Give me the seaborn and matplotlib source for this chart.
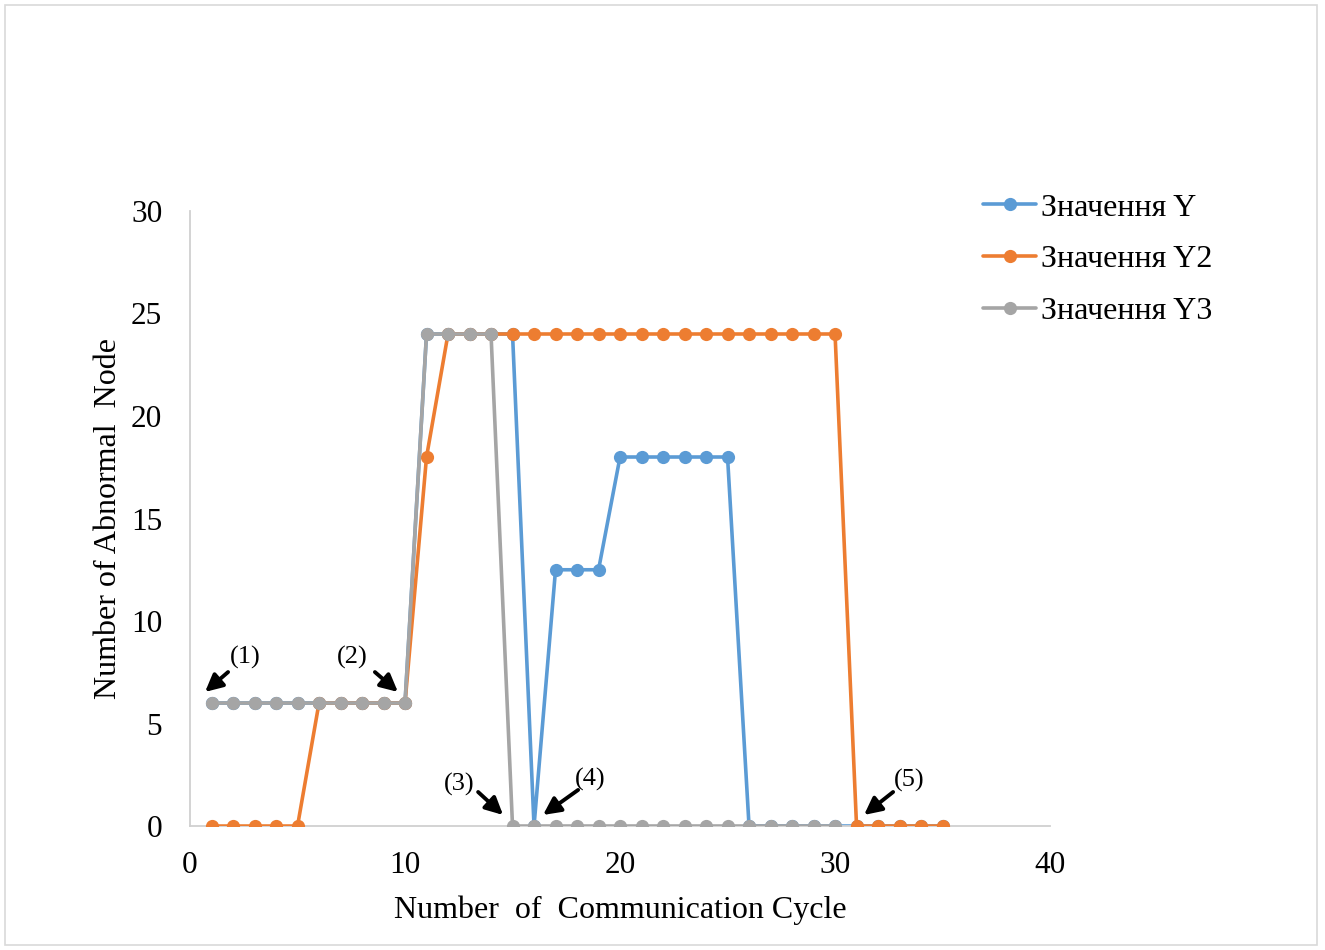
import matplotlib
matplotlib.use("Agg")
import matplotlib.pyplot as plt
import seaborn as sns
import pandas as pd
from matplotlib.patches import Rectangle

# Communication cycles and abnormal-node counts for each series
cycles_y = list(range(1, 36))
values_y = [6, 6, 6, 6, 6, 6, 6, 6, 6, 6,
            24, 24, 24, 24, 24,
            0,
            12.5, 12.5, 12.5,
            18, 18, 18, 18, 18, 18,
            0, 0, 0, 0, 0, 0, 0, 0, 0, 0]

cycles_y2 = list(range(1, 36))
values_y2 = [0, 0, 0, 0, 0,
             6, 6, 6, 6, 6,
             18,
             24, 24, 24, 24, 24, 24, 24, 24, 24, 24,
             24, 24, 24, 24, 24, 24, 24, 24, 24,
             0, 0, 0, 0, 0]

cycles_y3 = list(range(1, 31))
values_y3 = [6, 6, 6, 6, 6, 6, 6, 6, 6, 6,
             24, 24, 24, 24,
             0, 0, 0, 0, 0, 0, 0, 0, 0, 0, 0, 0, 0, 0, 0, 0]

series_names = ["Значення Y", "Значення Y2", "Значення Y3"]
series_colors = ["#5B9BD5", "#ED7D31", "#A5A5A5"]

x_ticks = [0, 10, 20, 30, 40]
y_ticks = [0, 5, 10, 15, 20, 25, 30]

# Event markers: label, arrow tip, arrow tail, label centre (data units)
event_labels = ["(1)", "(2)", "(3)", "(4)", "(5)"]
event_tips = [(0.70, 6.54), (9.67, 6.54), (14.56, 0.54), (16.42, 0.54), (31.35, 0.54)]
event_tails = [(1.77, 7.51), (8.60, 7.51), (13.40, 1.66), (18.05, 1.76), (32.70, 1.66)]
event_text = [(2.56, 8.24), (7.53, 8.24), (12.51, 2.05), (18.60, 2.29), (33.44, 2.20)]

df = pd.concat([
    pd.DataFrame({"cycle": cycles_y, "value": values_y, "series": series_names[0]}),
    pd.DataFrame({"cycle": cycles_y2, "value": values_y2, "series": series_names[1]}),
    pd.DataFrame({"cycle": cycles_y3, "value": values_y3, "series": series_names[2]}),
], ignore_index=True)

sns.set_theme(style="white")
plt.rcParams["font.family"] = ["Liberation Serif", "DejaVu Serif"]
plt.rcParams["text.color"] = "black"
plt.rcParams["axes.labelcolor"] = "black"

fig = plt.figure(figsize=(13.25, 9.5), dpi=100)
ax = fig.add_axes([0.1434, 0.1305, 0.6491, 0.6474])

for i, name in enumerate(series_names):
    sub = df[df["series"] == name]
    sns.lineplot(data=sub, x="cycle", y="value", ax=ax, color=series_colors[i],
                 marker="o", markersize=9.5, markeredgewidth=0, linewidth=2.6,
                 label=name, zorder=2 + i)

ax.set_xlim(0, 40)
ax.set_ylim(0, 30)
ax.set_xticks(x_ticks)
ax.set_yticks(y_ticks)
ax.tick_params(axis="both", length=0, labelsize=22.5, colors="black")
ax.tick_params(axis="y", pad=20)
ax.tick_params(axis="x", pad=18)

for side in ["top", "right"]:
    ax.spines[side].set_visible(False)
for side in ["left", "bottom"]:
    ax.spines[side].set_color("#D0D0D0")
    ax.spines[side].set_linewidth(1.3)

ax.set_xlabel("Number  of  Communication Cycle", fontsize=23, labelpad=11)
ax.set_ylabel("Number of Abnormal  Node", fontsize=23, labelpad=6)

for lab, tip, tail, txt in zip(event_labels, event_tips, event_tails, event_text):
    ax.annotate("", xy=tip, xytext=tail,
                arrowprops=dict(arrowstyle="-|>", color="black", lw=2.8,
                                mutation_scale=26, shrinkA=0, shrinkB=0),
                zorder=6)
    ax.text(txt[0], txt[1], lab, fontsize=19, ha="center", va="center", zorder=6)

leg = ax.legend(loc="upper left", bbox_to_anchor=(0.7325, 0.810),
                bbox_transform=fig.transFigure, frameon=False, fontsize=23,
                handlelength=1.66, handletextpad=0.15, labelspacing=0.7,
                borderaxespad=0)

fig.patches.append(Rectangle((0.004, 0.005), 0.99, 0.99, transform=fig.transFigure,
                             fill=False, edgecolor="#D9D9D9", linewidth=1.2))

fig.savefig("out.png", dpi=100, facecolor="white")
